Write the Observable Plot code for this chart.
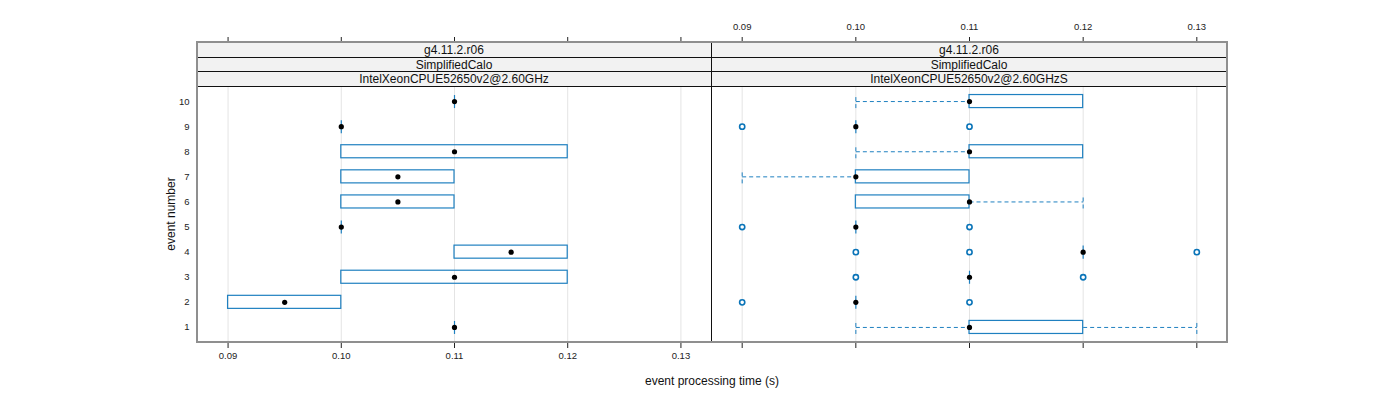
<!DOCTYPE html>
<html><head><meta charset="utf-8">
<script src="https://cdn.jsdelivr.net/npm/d3@7"></script>
<script src="https://cdn.jsdelivr.net/npm/@observablehq/plot@0.6"></script>
<style>
body{margin:0;background:#fff;}
#wrap{position:relative;width:1400px;height:400px;font-family:"Liberation Sans",Arial,sans-serif;}
#wrap svg{position:absolute;left:0;top:0;overflow:visible;}
</style></head><body><div id="wrap"></div>
<script>
// ---- data ----
const events = [1, 2, 3, 4, 5, 6, 7, 8, 9, 10];
const xTicks = [0.09, 0.10, 0.11, 0.12, 0.13];
const stripTop = ["g4.11.2.r06", "g4.11.2.r06"];
const stripMid = ["SimplifiedCalo", "SimplifiedCalo"];
const stripBot = ["IntelXeonCPUE52650v2@2.60GHz", "IntelXeonCPUE52650v2@2.60GHzS"];

// left panel (no whiskers beyond the box)
const leftQ1  = [0.11, 0.09,  0.10, 0.11,  0.10, 0.10,  0.10,  0.10, 0.10, 0.11];
const leftMed = [0.11, 0.095, 0.11, 0.115, 0.10, 0.105, 0.105, 0.11, 0.10, 0.11];
const leftQ3  = [0.11, 0.10,  0.12, 0.12,  0.10, 0.11,  0.11,  0.12, 0.10, 0.11];

// right panel
const rightLo  = [0.10, 0.10, 0.11, 0.12, 0.10, 0.10, 0.09, 0.10, 0.10, 0.10];
const rightQ1  = [0.11, 0.10, 0.11, 0.12, 0.10, 0.10, 0.10, 0.11, 0.10, 0.11];
const rightMed = [0.11, 0.10, 0.11, 0.12, 0.10, 0.11, 0.10, 0.11, 0.10, 0.11];
const rightQ3  = [0.12, 0.10, 0.11, 0.12, 0.10, 0.11, 0.11, 0.12, 0.10, 0.12];
const rightHi  = [0.13, 0.10, 0.11, 0.12, 0.10, 0.12, 0.11, 0.12, 0.10, 0.12];
const outEvent = [2, 2, 3, 3, 4, 4, 4, 5, 5, 9, 9];
const outValue = [0.09, 0.11, 0.10, 0.12, 0.10, 0.11, 0.13, 0.09, 0.11, 0.09, 0.11];

const leftRows = events.map((e, i) => ({event: e, lo: leftQ1[i], q1: leftQ1[i], med: leftMed[i], q3: leftQ3[i], hi: leftQ3[i]}));
const rightRows = events.map((e, i) => ({event: e, lo: rightLo[i], q1: rightQ1[i], med: rightMed[i], q3: rightQ3[i], hi: rightHi[i]}));
const rightOut = outEvent.map((e, i) => ({event: e, value: outValue[i]}));

// ---- layout ----
const W = 1400, H = 400;
const panelTop = 86, panelBottom = 342, stripY = 42;
const L0 = 197, L1 = 711, R1 = 1227;
const blue = "#1f80c0";
const blueDark = "#0a74b8";
const bh = 0.26;
const fmt = d3.format(".2f");
const xDomain = [0.0873, 0.1327];
const yDomain = [0.4, 10.6];

function panelMarks(rows, outs) {
  return [
    Plot.gridX(xTicks, {stroke: "#e4e4e4", strokeOpacity: 1}),
    Plot.link(rows.filter(d => d.lo < d.q1), {x1: "lo", x2: "q1", y1: "event", y2: "event", stroke: blue, strokeDasharray: "4,3"}),
    Plot.link(rows.filter(d => d.hi > d.q3), {x1: "q3", x2: "hi", y1: "event", y2: "event", stroke: blue, strokeDasharray: "4,3"}),
    Plot.link(rows.filter(d => d.lo < d.q1), {x1: "lo", x2: "lo", y1: d => d.event - bh, y2: d => d.event + bh, stroke: blue, strokeDasharray: "4,3"}),
    Plot.link(rows.filter(d => d.hi > d.q3), {x1: "hi", x2: "hi", y1: d => d.event - bh, y2: d => d.event + bh, stroke: blue, strokeDasharray: "4,3"}),
    Plot.rect(rows.filter(d => d.q3 > d.q1), {x1: "q1", x2: "q3", y1: d => d.event - bh, y2: d => d.event + bh, fill: "none", stroke: blue, strokeWidth: 1.2}),
    Plot.link(rows.filter(d => d.q3 === d.q1), {x1: "q1", x2: "q1", y1: d => d.event - bh, y2: d => d.event + bh, stroke: blue, strokeWidth: 1.2}),
    Plot.dot(outs, {x: "value", y: "event", r: 2.6, stroke: blueDark, strokeWidth: 1.6, fill: "white"}),
    Plot.dot(rows, {x: "med", y: "event", r: 2.6, fill: "black", stroke: "none"})
  ];
}

const common = {
  width: W, height: H, marginTop: panelTop, marginBottom: H - panelBottom,
  style: {background: "transparent", fontFamily: "Liberation Sans, Arial, sans-serif", fontSize: "9.5px", color: "#222"},
  x: {domain: xDomain, axis: null},
  y: {domain: yDomain, axis: null}
};

const leftPlot = Plot.plot({
  ...common,
  marginLeft: L0, marginRight: W - L1,
  marks: [
    ...panelMarks(leftRows, []),
    Plot.axisY({ticks: events, tickSize: 0, tickPadding: 8, label: null, tickFormat: d => String(d)}),
    Plot.axisX({anchor: "bottom", ticks: xTicks, tickSize: 6, tickPadding: 4, tickFormat: fmt, label: null}),
    Plot.axisX({anchor: "top", ticks: xTicks, tickSize: 6, tickFormat: () => "", label: null, dy: stripY - panelTop})
  ]
});

const rightPlot = Plot.plot({
  ...common,
  marginLeft: L1, marginRight: W - R1,
  marks: [
    ...panelMarks(rightRows, rightOut),
    Plot.axisX({anchor: "bottom", ticks: xTicks, tickSize: 6, tickFormat: () => "", label: null}),
    Plot.axisX({anchor: "top", ticks: xTicks, tickSize: 6, tickPadding: 7, tickFormat: fmt, label: null, dy: stripY - panelTop})
  ]
});

const wrap = document.getElementById("wrap");
wrap.appendChild(leftPlot);
wrap.appendChild(rightPlot);

// ---- frames, strips and titles ----
const deco = d3.create("svg").attr("width", W).attr("height", H)
  .style("font-family", "Liberation Sans, Arial, sans-serif");
const sh = (panelTop - stripY) / 3;
const panels = [[L0, L1], [L1, R1]];
panels.forEach(([a, b], p) => {
  [stripTop[p], stripMid[p], stripBot[p]].forEach((t, k) => {
    const y0 = Math.round(stripY + k * sh) + 0.5;
    const y1 = Math.round(stripY + (k + 1) * sh) + 0.5;
    deco.append("rect").attr("x", a + 0.5).attr("y", y0).attr("width", b - a).attr("height", y1 - y0)
      .attr("fill", "#f2f2f2").attr("stroke", "#111").attr("stroke-width", 1);
    deco.append("text").attr("x", (a + b) / 2).attr("y", (y0 + y1) / 2).attr("dy", "0.36em")
      .attr("text-anchor", "middle").attr("font-size", 12).attr("fill", "#111").text(t);
  });
});
deco.append("line").attr("x1", L0).attr("x2", R1).attr("y1", panelTop + 0.5).attr("y2", panelTop + 0.5).attr("stroke", "#111");
deco.append("rect").attr("x", L0).attr("y", stripY).attr("width", R1 - L0).attr("height", panelBottom - stripY)
  .attr("fill", "none").attr("stroke", "#8f8f8f").attr("stroke-width", 2);
deco.append("line").attr("x1", L1 + 0.5).attr("x2", L1 + 0.5).attr("y1", stripY + 1).attr("y2", panelBottom - 1).attr("stroke", "#111");
deco.append("text").attr("x", (L0 + R1) / 2).attr("y", 381).attr("dy", "0.36em").attr("text-anchor", "middle")
  .attr("font-size", 12).attr("fill", "#111").text("event processing time (s)");
deco.append("text").attr("transform", `translate(171,${(panelTop + panelBottom) / 2}) rotate(-90)`).attr("dy", "0.36em")
  .attr("text-anchor", "middle").attr("font-size", 12).attr("fill", "#111").text("event number");
wrap.appendChild(deco.node());
</script></body></html>
